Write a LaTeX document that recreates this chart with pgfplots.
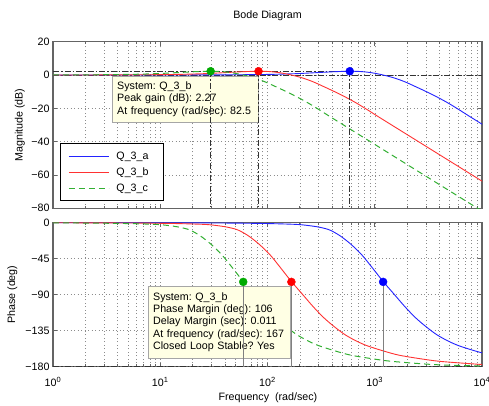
\documentclass[border=0pt]{standalone}
\usepackage{fontspec}
\setmainfont{Liberation Sans}
\usepackage{pgfplots}
\pgfplotsset{compat=1.18}
\definecolor{cA}{RGB}{35,35,255}
\definecolor{cB}{RGB}{255,50,50}
\definecolor{cC}{RGB}{50,175,50}
\definecolor{mA}{RGB}{0,0,255}
\definecolor{mB}{RGB}{255,0,0}
\definecolor{mC}{RGB}{0,170,0}
\definecolor{tipbg}{RGB}{255,255,228}
\definecolor{axgray}{RGB}{100,100,100}
\newcommand\mf{\fontsize{10.7bp}{12.3bp}\selectfont\frenchspacing}
\tikzset{
  mydd/.style={black!80, line width=1bp, dash pattern=on 6bp off 2bp on 1.5bp off 2bp},
  mytip/.style={draw=black!35, fill=tipbg, font=\mf, align=left, inner xsep=5bp, inner ysep=0bp, anchor=north west},
}
\begin{document}
\frenchspacing
\begin{tikzpicture}
\useasboundingbox (0,0) rectangle (489bp,406bp);
% ---------------- Magnitude ----------------
\begin{axis}[
  scale only axis, width=429bp, height=166.6bp, xmode=log, xmin=1, xmax=10000,
  at={(53bp,197.7bp)}, anchor=south west,
  clip mode=individual,
  axis line style={axgray, line width=1.1bp},
  tick style={axgray, line width=0.6bp},
  major tick length=4bp, minor tick length=2.5bp,
  xmajorgrids, xminorgrids, ymajorgrids,
  major grid style={black!45, line width=0.5bp, dash pattern=on 1bp off 2.5bp},
  minor grid style={black!45, line width=0.5bp, dash pattern=on 1bp off 2.5bp},
  tick label style={font=\mf},
  xtick={1,10,100,1000,10000}, xticklabels={},
  ymin=-80, ymax=20, ytick={-80,-60,-40,-20,0,20},
  yticklabels={−80,−60,−40,−20,0,20},
  ylabel={Magnitude (dB)},
  ylabel style={at={(axis description cs:-0.077,0.5)}, anchor=center, font=\mf},
  title={Bode Diagram},
  title style={at={(axis description cs:0.5,1.118)}, anchor=center, font=\mf},
  legend image code/.code={\draw[#1] (0bp,0bp) -- (40bp,0bp);},
  legend style={at={(0.016,0.392)}, anchor=north west, draw=black, line width=1.2bp,
    fill=white, font=\mf, inner xsep=8bp, inner ysep=6bp, row sep=3bp, column sep=5bp,
    nodes={inner xsep=2bp}},
  legend cell align=left,
]
\addplot[mydd, forget plot] coordinates {(1,0) (10000,0)};
\addplot[mydd, forget plot] coordinates {(1,2.27) (585,2.27)};
\addplot[cA, line width=0.9bp, smooth] coordinates {
(1,0) (11.97,0.02) (37.85,0.1) (75.5,0.25) (119.7,0.45) (189.7,0.85) (300.7,1.5)
(424.7,2.0) (585,2.27) (755.3,2.05) (950.8,1.3) (1197,0) (1507,-1.7) (1897,-4.0)
(2388,-6.9) (3007,-9.9) (3785,-13.1) (4765,-16.6) (6000,-20.5) (7553,-24.6) (11970,-32.6)};
\addlegendentry{Q\_3\_a\hspace*{5bp}}
\addplot[cB, line width=0.9bp, smooth] coordinates {
(1,0) (1.67,0.02) (5.28,0.1) (10.54,0.25) (16.7,0.45) (26.5,0.85) (41.9,1.5) (59.3,2.0)
(82.5,2.27) (105.4,2.05) (132.6,1.3) (167,0) (210.3,-1.7) (264.7,-4.0) (333.2,-6.9)
(419.5,-9.9) (528.1,-13.1) (664.8,-16.6) (837,-20.5) (1054,-24.6) (1670,-32.6)
(2647,-40.6) (5281,-52.6) (10538,-64.6)};
\addlegendentry{Q\_3\_b\hspace*{5bp}}
\addplot[cC, line width=1bp, dash pattern=on 6bp off 4bp, smooth] coordinates {
(1,0.05) (1.878,0.1) (3.748,0.25) (5.94,0.45) (9.41,0.85) (14.92,1.5) (21.08,2.0)
(29.5,2.27) (37.5,2.05) (47.2,1.3) (59.4,0) (74.8,-1.7) (94.1,-4.0) (118.5,-6.9)
(149.2,-9.9) (187.8,-13.1) (236.5,-16.6) (297.7,-20.5) (374.8,-24.6) (594,-32.6)
(941.5,-40.6) (1878,-52.6) (3748,-64.6) (9415,-80.6) (14921,-88.6)};
\addlegendentry{Q\_3\_c\hspace*{5bp}}
\node[mytip, text width=136bp, minimum height=46bp] at (axis cs:3.55,-0.58)
  {System: Q\_3\_b\\Peak gain (dB): 2.27\\At frequency (rad/sec): 82.5};
\addplot[mydd, forget plot] coordinates {(29.5,2.27) (29.5,-80)};
\addplot[mydd, forget plot] coordinates {(82.5,2.27) (82.5,-80)};
\addplot[mydd, forget plot] coordinates {(585,2.27) (585,-80)};
\addplot[only marks, mark=*, mark size=4bp, mark options={fill=mC, draw=mC}, forget plot] coordinates {(29.5,2.27)};
\addplot[only marks, mark=*, mark size=4bp, mark options={fill=mB, draw=mB}, forget plot] coordinates {(82.5,2.27)};
\addplot[only marks, mark=*, mark size=4bp, mark options={fill=mA, draw=mA}, forget plot] coordinates {(585,2.27)};
\end{axis}
% ---------------- Phase ----------------
\begin{axis}[
  scale only axis, width=429bp, height=144bp, xmode=log, xmin=1, xmax=10000,
  at={(53bp,39.3bp)}, anchor=south west,
  clip mode=individual,
  axis line style={axgray, line width=1.1bp},
  tick style={axgray, line width=0.6bp},
  major tick length=4bp, minor tick length=2.5bp,
  xmajorgrids, xminorgrids, ymajorgrids,
  major grid style={black!45, line width=0.5bp, dash pattern=on 1bp off 2.5bp},
  minor grid style={black!45, line width=0.5bp, dash pattern=on 1bp off 2.5bp},
  tick label style={font=\mf},
  xtick={1,10,100,1000,10000},
  xticklabels={10\textsuperscript{0},10\textsuperscript{1},10\textsuperscript{2},10\textsuperscript{3},10\textsuperscript{4}},
  xticklabel style={yshift=-7bp},
  ymin=-180, ymax=0, ytick={-180,-135,-90,-45,0},
  yticklabels={−180,−135,−90,−45,0},
  xlabel={Frequency \ (rad/sec)},
  xlabel style={at={(axis description cs:0.501,-0.217)}, anchor=center, font=\mf},
  ylabel={Phase (deg)},
  ylabel style={at={(axis description cs:-0.095,0.5)}, anchor=center, font=\mf},
]
\addplot[mydd, forget plot] coordinates {(1,-180) (10000,-180)};
\addplot[cA, line width=0.9bp, smooth] coordinates {
(1,0) (11.97,-0.13) (37.85,-0.4) (75.5,-0.8) (119.7,-1.3) (189.7,-2.2) (238.8,-3.5)
(300.7,-5.5) (378.5,-9) (476.5,-16.5) (600,-27) (755.3,-40) (950.8,-56.5) (1197,-73.5)
(1507,-89) (1897,-104.5) (2388,-118.5) (3007,-130) (3785,-140) (4765,-147.5)
(6000,-153.5) (8474,-160) (11970,-165.5)};
\addplot[cB, line width=0.9bp, smooth] coordinates {
(1,-0.01) (1.67,-0.13) (5.28,-0.4) (10.54,-0.8) (16.7,-1.3) (26.5,-2.2) (33.3,-3.5)
(41.9,-5.5) (52.8,-9) (66.5,-16.5) (83.7,-27) (105.4,-40) (132.6,-56.5) (167,-73.5)
(210.3,-89) (264.7,-104.5) (333.2,-118.5) (419.5,-130) (528.1,-140) (664.8,-147.5)
(837,-153.5) (1182,-160) (1670,-165.5) (2647,-170) (4195,-173.5) (10538,-177.5)};
\addplot[cC, line width=1bp, dash pattern=on 6bp off 4bp, smooth] coordinates {
(1,-0.2) (1.878,-0.4) (3.748,-0.8) (5.94,-1.3) (9.41,-2.2) (11.85,-3.5) (14.92,-5.5)
(18.78,-9) (23.65,-16.5) (29.77,-27) (37.48,-40) (47.18,-56.5) (59.4,-73.5)
(74.8,-89) (94.1,-104.5) (118.5,-118.5) (149.2,-130) (187.8,-140) (236.5,-147.5)
(297.7,-153.5) (420.5,-160) (594,-165.5) (941.5,-170) (1492,-173.5) (3748,-177.5)
(9415,-179) (14921,-179.5)};
\node[mytip, text width=132bp, minimum height=72bp] at (axis cs:7.68,-79.1)
  {System: Q\_3\_b\\Phase Margin (deg): 106\\Delay Margin (sec): 0.011\\At frequency (rad/sec): 167\\Closed Loop Stable? Yes};
\addplot[black!50, line width=1bp, forget plot] coordinates {(59.4,-74) (59.4,-180)};
\addplot[black!50, line width=1bp, forget plot] coordinates {(167,-74) (167,-180)};
\addplot[black!50, line width=1bp, forget plot] coordinates {(1197,-74) (1197,-180)};
\addplot[only marks, mark=*, mark size=4bp, mark options={fill=mC, draw=mC}, forget plot] coordinates {(59.4,-74)};
\addplot[only marks, mark=*, mark size=4bp, mark options={fill=mB, draw=mB}, forget plot] coordinates {(167,-74)};
\addplot[only marks, mark=*, mark size=4bp, mark options={fill=mA, draw=mA}, forget plot] coordinates {(1197,-74)};
\end{axis}
\end{tikzpicture}
\end{document}
